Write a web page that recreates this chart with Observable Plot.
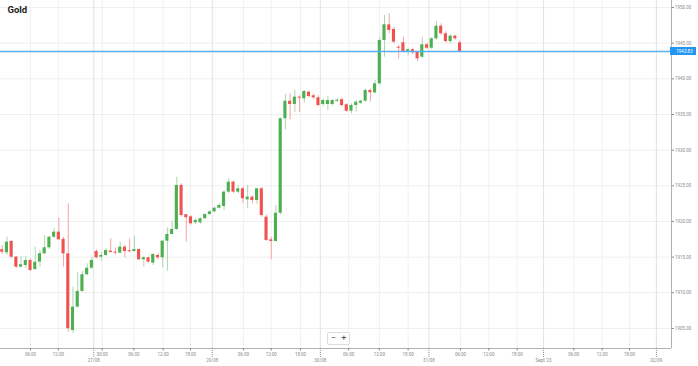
<!DOCTYPE html>
<html>
<head>
<meta charset="utf-8">
<script src="https://cdn.jsdelivr.net/npm/d3@7"></script>
<script src="https://cdn.jsdelivr.net/npm/@observablehq/plot@0.6"></script>
<style>
  html, body { margin: 0; padding: 0; background: #fff; }
  #wrap { position: relative; width: 698px; height: 366px; overflow: hidden; }
  #zoomctl { position: absolute; left: 327px; top: 332px; width: 21px; height: 11px;
    border: 1px solid #dcdcdc; border-radius: 2px; background: #fff;
    font: 9px Roboto, sans-serif; color: #555; display: flex; justify-content: space-around; align-items: center; line-height: 11px; }
</style>
</head>
<body>
<div id="wrap"><div id="zoomctl"><span>−</span><span>+</span></div></div>
<script>
const title = "Gold";
const opens  = [1916.03,1915.61,1917.20,1915.00,1913.60,1913.83,1914.53,1913.27,1914.30,1915.47,1916.31,1917.80,1918.50,1917.50,1915.47,1904.72,1907.99,1910.19,1912.53,1913.45,1915.79,1915.00,1915.23,1915.84,1915.70,1915.56,1916.40,1915.89,1915.79,1916.07,1914.63,1914.91,1914.16,1915.23,1914.91,1917.24,1918.18,1918.88,1925.05,1920.94,1920.65,1919.82,1919.82,1920.38,1920.98,1921.35,1921.86,1922.10,1924.11,1925.51,1924.11,1924.58,1923.04,1923.41,1922.94,1924.58,1920.60,1917.43,1917.20,1921.16,1934.40,1936.86,1936.40,1937.43,1937.20,1938.13,1937.62,1937.34,1936.40,1936.40,1936.40,1936.85,1937.06,1936.36,1935.46,1936.26,1936.58,1936.86,1938.36,1938.04,1939.30,1945.37,1947.57,1946.92,1944.43,1945.05,1943.83,1944.07,1943.73,1943.03,1944.77,1944.29,1945.61,1947.38,1946.31,1945.23,1945.98,1945.05];
const highs  = [1916.63,1917.80,1917.34,1915.13,1915.09,1915.10,1914.77,1916.40,1915.93,1918.04,1917.90,1918.98,1920.46,1917.80,1922.48,1910.79,1912.85,1912.99,1914.07,1915.00,1916.03,1915.70,1916.17,1917.57,1916.26,1917.10,1916.63,1917.57,1917.94,1916.17,1915.09,1915.00,1915.47,1915.47,1917.30,1919.11,1920.04,1926.21,1925.28,1921.00,1920.80,1920.42,1920.50,1921.10,1921.50,1922.00,1922.50,1924.30,1925.99,1925.70,1925.05,1924.81,1925.05,1923.60,1924.60,1924.80,1920.90,1917.80,1922.24,1934.50,1937.80,1937.90,1938.36,1937.60,1938.36,1938.30,1937.80,1937.60,1937.20,1937.52,1937.10,1937.20,1937.30,1936.50,1936.50,1936.96,1937.00,1938.60,1938.60,1939.77,1945.84,1948.88,1949.12,1947.24,1944.67,1945.84,1944.29,1944.30,1943.83,1945.84,1945.00,1945.80,1948.04,1947.71,1946.60,1946.20,1946.10,1945.30];
const lows   = [1915.37,1915.23,1914.77,1913.45,1913.45,1913.37,1912.99,1913.13,1913.59,1915.30,1916.07,1917.60,1917.33,1913.59,1904.48,1904.26,1907.90,1910.10,1912.40,1913.30,1914.77,1914.44,1915.10,1915.56,1915.33,1915.47,1914.91,1915.60,1915.70,1914.53,1913.60,1914.16,1913.83,1914.60,1913.50,1913.03,1918.04,1918.74,1920.60,1917.10,1919.50,1919.58,1919.60,1920.30,1920.80,1921.20,1921.70,1921.54,1923.90,1923.88,1923.88,1922.48,1921.78,1922.48,1922.40,1920.60,1917.20,1914.63,1917.10,1920.90,1932.86,1934.26,1935.32,1935.32,1936.58,1937.30,1937.10,1936.10,1936.10,1935.56,1936.20,1936.70,1936.00,1935.30,1935.10,1935.32,1936.40,1936.72,1936.72,1937.90,1939.07,1943.03,1946.31,1944.91,1942.81,1943.65,1943.17,1943.41,1942.43,1942.89,1944.10,1944.10,1945.40,1946.10,1945.00,1944.90,1945.40,1943.70];
const closes = [1915.70,1917.10,1914.99,1913.59,1913.93,1914.53,1913.13,1914.29,1915.47,1916.31,1917.80,1918.50,1917.43,1915.47,1904.96,1907.99,1910.19,1912.53,1913.45,1914.53,1914.91,1915.23,1915.93,1915.65,1915.56,1916.40,1915.79,1915.75,1916.07,1914.63,1914.91,1914.30,1915.37,1914.91,1917.24,1918.18,1918.88,1925.05,1920.84,1920.52,1919.68,1920.14,1920.38,1920.98,1921.35,1921.86,1922.24,1924.11,1925.51,1924.11,1924.58,1923.18,1923.41,1922.94,1924.58,1920.84,1917.34,1917.20,1921.16,1934.40,1936.86,1936.40,1937.43,1937.29,1938.22,1937.52,1937.34,1936.26,1936.96,1936.96,1936.96,1937.00,1936.26,1935.46,1936.26,1936.72,1936.86,1938.36,1938.04,1939.30,1945.37,1947.57,1946.78,1945.14,1944.29,1943.73,1944.07,1943.65,1942.81,1944.77,1944.29,1945.61,1947.38,1946.31,1945.23,1945.98,1945.61,1943.83];
const currentPrice = 1943.83;

const yTicks = [1905, 1910, 1915, 1920, 1925, 1930, 1935, 1940, 1945, 1950];
const timeTickPos    = [6.0, 11.9, 21.2, 27.9, 34.1, 39.9, 51.1, 57.0, 63.2, 73.4, 79.9, 86.0, 97.1, 103.1, 109.1, 121.1, 127.1, 132.9];
const timeTickLabels = ["06:00","12:00","00:00","06:00","12:00","18:00","06:00","12:00","18:00","06:00","12:00","18:00","06:00","12:00","18:00","06:00","12:00","18:00"];
const dateTickPos    = [19.4, 44.5, 67.4, 90.4, 114.7, 138.6];
const dateTickLabels = ["27/08","29/08","30/08","31/08","Sept '23","02/09"];

const xDomain = [-0.36, 141.8];
const yDomain = [1902.19, 1950.98];

const candles = opens.map((o, i) => ({i, open: o, high: highs[i], low: lows[i], close: closes[i]}));
const up = candles.filter(d => d.close >= d.open);
const down = candles.filter(d => d.close < d.open);
const timeMap = new Map(timeTickPos.map((p, k) => [p, timeTickLabels[k]]));
const dateMap = new Map(dateTickPos.map((p, k) => [p, dateTickLabels[k]]));

const GREEN = "#4caf50", RED = "#f05252", WG = "#a9d8ab", WR = "#f5a3a3";
const half = 0.33;

const chart = Plot.plot({
  width: 698, height: 366,
  marginTop: 0, marginLeft: 0, marginRight: 27, marginBottom: 18,
  x: {domain: xDomain, axis: null, label: null},
  y: {domain: yDomain, axis: null, label: null},
  style: {fontFamily: "Roboto, sans-serif", background: "#fff", overflow: "visible"},
  marks: [
    Plot.ruleY(yTicks, {stroke: "#efefef"}),
    Plot.ruleX(timeTickPos, {stroke: "#f1f1f1"}),
    Plot.ruleX(dateTickPos, {stroke: "#e2e2e2"}),
    Plot.ruleX(up, {x: "i", y1: "low", y2: "high", stroke: WG, clip: true}),
    Plot.ruleX(down, {x: "i", y1: "low", y2: "high", stroke: WR, clip: true}),
    Plot.rect(up, {x1: d => d.i - half, x2: d => d.i + half, y1: "open", y2: "close", fill: GREEN, clip: true}),
    Plot.rect(down, {x1: d => d.i - half, x2: d => d.i + half, y1: "open", y2: "close", fill: RED, clip: true}),
    Plot.ruleY([currentPrice], {stroke: "#58b0f4", strokeWidth: 1.3, strokeOpacity: 1}),
    Plot.ruleX([xDomain[1]], {stroke: "#b0b0b0"}),
    Plot.ruleY([yDomain[0]], {stroke: "#b0b0b0"}),
    Plot.axisY(yTicks, {anchor: "right", tickSize: 2, tickPadding: 1.5, fontSize: 4.5, label: null,
      tickFormat: d => d.toFixed(2), color: "#8a8a8a"}),
    Plot.axisX(timeTickPos, {anchor: "bottom", tickSize: 2.5, tickPadding: 1.5, fontSize: 4.5, label: null,
      tickFormat: d => timeMap.get(d), color: "#8a8a8a"}),
    Plot.axisX(dateTickPos, {anchor: "bottom", tickSize: 9, tickPadding: 1, fontSize: 4.5, label: null,
      tickFormat: d => dateMap.get(d), color: "#8a8a8a", strokeDasharray: "1,1"}),
    Plot.rect([currentPrice], {x1: () => xDomain[1], x2: () => xDomain[1], y1: d => d, y2: d => d,
      insetLeft: -1, insetRight: -25, insetTop: -4, insetBottom: -4, fill: "#2196f3"}),
    Plot.text([currentPrice], {x: () => xDomain[1], y: d => d, text: d => d.toFixed(2), dx: 13,
      fill: "#fff", fontSize: 4.5, textAnchor: "middle"}),
    Plot.text([title], {frameAnchor: "top-left", dx: 7, dy: 6, fontWeight: "bold", fontSize: 9.5, fill: "#222"})
  ]
});
document.getElementById("wrap").prepend(chart);
</script>
</body>
</html>
